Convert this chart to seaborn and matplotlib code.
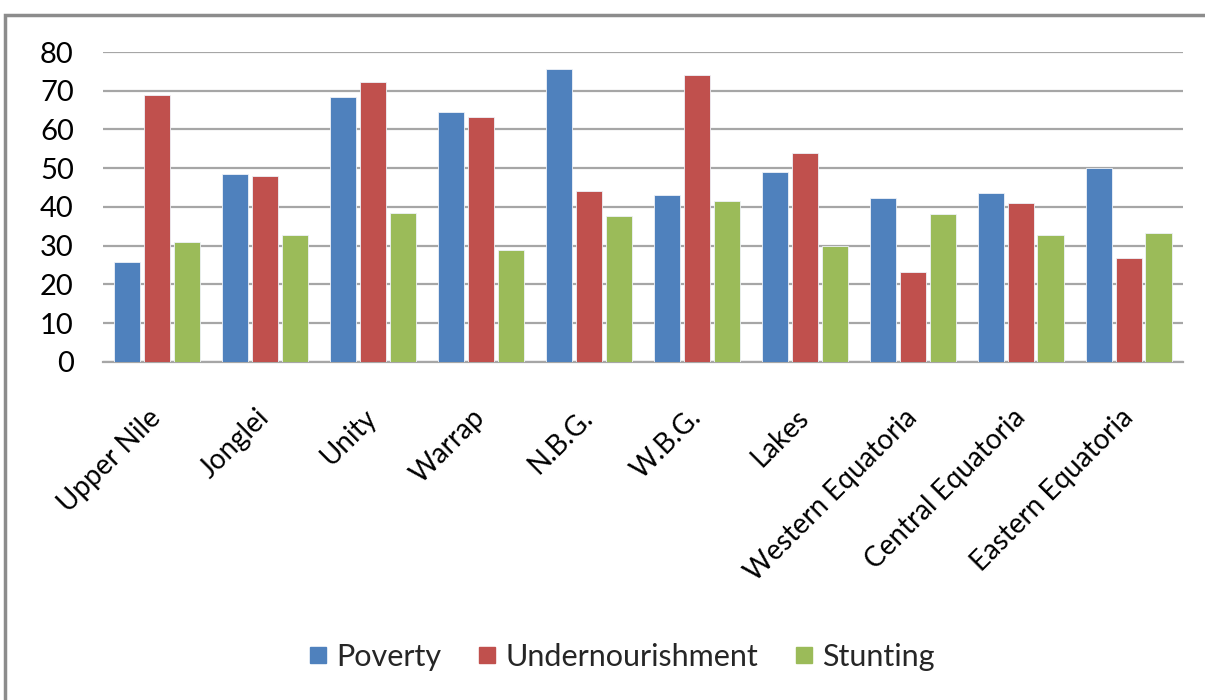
import numpy as np
import pandas as pd
import matplotlib
matplotlib.use("Agg")
import matplotlib.pyplot as plt
import seaborn as sns
from matplotlib.patches import Rectangle
from matplotlib.lines import Line2D

# Poverty, undernourishment and stunting by state (%)
states = ["Upper Nile", "Jonglei", "Unity", "Warrap", "N.B.G.", "W.B.G.",
          "Lakes", "Western Equatoria", "Central Equatoria", "Eastern Equatoria"]
poverty = [25.7, 48.5, 68.5, 64.4, 75.6, 43.1, 49.0, 42.2, 43.5, 50.0]
undernourishment = [69.0, 48.1, 72.2, 63.2, 44.0, 74.1, 53.9, 23.1, 41.0, 26.9]
stunting = [31.0, 32.7, 38.5, 29.0, 37.8, 41.5, 29.9, 38.1, 32.7, 33.4]
series = ["Poverty", "Undernourishment", "Stunting"]
colors = ["#4F81BD", "#C0504D", "#9BBB59"]

df = pd.DataFrame({"State": states, "Poverty": poverty,
                   "Undernourishment": undernourishment, "Stunting": stunting})
long = df.melt(id_vars="State", var_name="Series", value_name="Value")

sns.set_style("white")
plt.rcParams["font.family"] = ["Lato", "DejaVu Sans"]

fig = plt.figure(figsize=(12.05, 7.0), dpi=100)
ax = fig.add_axes([0.0855, 0.4829, 0.896, 0.4428])

sns.barplot(data=long, x="State", y="Value", hue="Series", hue_order=series,
            palette=colors, saturation=1, width=0.83, gap=0.12, ax=ax,
            legend=False, edgecolor="#EEF2F8", linewidth=0.6, zorder=3)

ax.set_ylim(0, 80)
ax.set_xlim(-0.5, len(states) - 0.5)
ax.set_yticks(np.arange(0, 81, 10))
ax.yaxis.grid(True, color="#A6A6A6", linewidth=1.6, zorder=0)
ax.set_axisbelow(True)
for s in ["left", "right", "top"]:
    ax.spines[s].set_visible(False)
ax.spines["bottom"].set_color("#A6A6A6")
ax.spines["bottom"].set_linewidth(1.6)
ax.tick_params(axis="both", length=0, colors="black")
ax.tick_params(axis="y", labelsize=21, pad=21)
ax.tick_params(axis="x", labelsize=20, pad=37)
ax.set_xlabel("")
ax.set_ylabel("")
for lbl in ax.get_xticklabels():
    lbl.set_rotation(45)
    lbl.set_ha("right")
    lbl.set_va("center")
    lbl.set_rotation_mode("anchor")

# legend at the bottom, square markers like the Excel legend keys
handles = [Line2D([], [], marker="s", linestyle="", markersize=11, color=c)
           for c in colors]
fig.legend(handles, series, loc="center", bbox_to_anchor=(0.516, 1 - 657 / 700),
           ncol=3, frameon=False, fontsize=22, handlelength=0.6,
           columnspacing=1.2, handletextpad=0.3)

# chart frame
fig.patches.append(Rectangle((5 / 1205, -0.1), 1.2, 1 - 15 / 700 + 0.1,
                             transform=fig.transFigure, fill=False,
                             edgecolor="#8C8C8C", linewidth=2.5))

fig.savefig("out.png", dpi=100)
